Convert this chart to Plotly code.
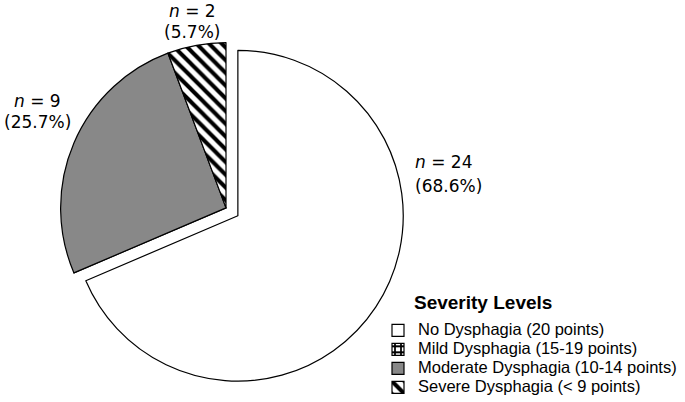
import plotly.graph_objects as go

# ---- data ----
categories = [
    "No Dysphagia (20 points)",
    "Mild Dysphagia (15-19 points)",
    "Moderate Dysphagia (10-14 points)",
    "Severe Dysphagia (< 9 points)",
]
counts = [24, 0, 9, 2]
legend_title = "Severity Levels"

# ---- styles ----
fill_colors = ["#ffffff", "#ffffff", "#888888", "#ffffff"]
pattern_shapes = ["", "+", "", "\\"]
pattern_sizes = [9, 6, 9, 9]
pattern_solidity = [0.45, 0.5, 0.45, 0.45]
pulls = [0.086, 0, 0, 0]

total = sum(counts)
W, H = 685, 402

legend_labels = ['<span style="font-size:16.5px">%s</span>' % c for c in categories]

fig = go.Figure()
fig.add_trace(go.Pie(
    labels=legend_labels,
    values=counts,
    sort=False,
    direction="clockwise",
    rotation=0,
    pull=pulls,
    textinfo="none",
    hoverinfo="label+value+percent",
    marker=dict(
        colors=fill_colors,
        line=dict(color="#000000", width=1.2),
        pattern=dict(shape=pattern_shapes, fgcolor="#000000", bgcolor=fill_colors,
                     size=pattern_sizes, solidity=pattern_solidity),
    ),
    domain=dict(x=[44.6 / W, 407.4 / W], y=[1 - 391.4 / H, 1 - 28.6 / H]),
    showlegend=True,
))

# label annotations built from the data: (x px, y line1 px, y line2 px, xanchor)
label_pos = {
    0: (414, 164, 188, "left"),
    2: (37, 102, 123, "center"),
    3: (192, 11, 32, "center"),
}
annotations = []
for i, (x, y1, y2, xa) in label_pos.items():
    v = counts[i]
    pct = 100.0 * v / total
    for y, txt in ((y1, "<i>n</i> = %d" % v), (y2, "(%.1f%%)" % pct)):
        annotations.append(dict(
            x=x / W, y=1 - y / H, xref="paper", yref="paper",
            xanchor=xa, yanchor="middle", showarrow=False,
            text=txt, borderpad=0,
            font=dict(family="DejaVu Sans", size=17, color="#000000"),
        ))

# legend title
annotations.append(dict(
    x=413 / W, y=1 - 306 / H, xref="paper", yref="paper",
    xanchor="left", yanchor="middle", showarrow=False, borderpad=0,
    text="<b>%s</b>" % legend_title,
    font=dict(family="Liberation Sans", size=19, color="#000000"),
))

fig.update_layout(
    width=W, height=H,
    margin=dict(l=0, r=0, t=0, b=0),
    paper_bgcolor="#ffffff",
    plot_bgcolor="#ffffff",
    showlegend=True,
    legend=dict(
        x=378 / W, y=1 - 319 / H, xanchor="left", yanchor="top",
        font=dict(family="Liberation Sans", size=12, color="#000000"),
        bgcolor="rgba(0,0,0,0)",
        traceorder="normal",
    ),
    annotations=annotations,
)

fig.write_html(
    "out.html",
    config={"displayModeBar": False},
    post_script="document.body.style.margin='0px';",
)
